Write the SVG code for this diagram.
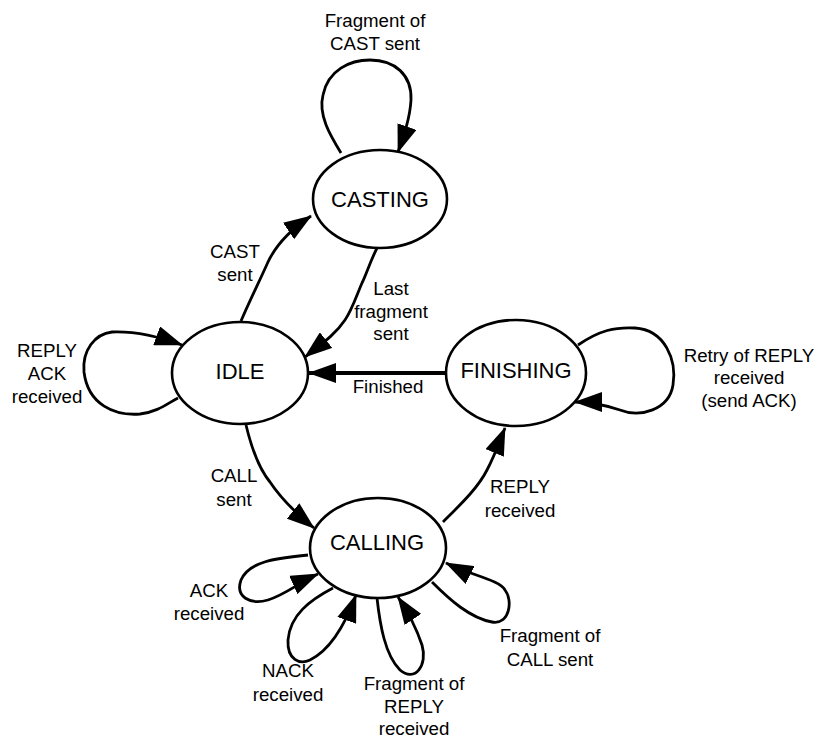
<svg xmlns="http://www.w3.org/2000/svg" width="818" height="738" viewBox="0 0 818 738">
  <style>
    .state { fill: #ffffff; stroke: #000000; stroke-width: 2.6; }
    .edge { fill: none; stroke: #000000; stroke-width: 2.8; marker-end: url(#arrow); }
    .heavy { stroke-width: 3.8; }
    .name { font-family: "Liberation Sans", Arial, sans-serif; font-size: 22px; text-anchor: middle; fill: #000000; }
    .lbl { font-family: "Liberation Sans", Arial, sans-serif; font-size: 18.7px; text-anchor: middle; fill: #000000; }
  </style>
  <defs>
    <marker id="arrow" markerUnits="userSpaceOnUse" markerWidth="28" markerHeight="20" refX="27" refY="10" orient="auto">
      <path d="M0,0 L28,10 L0,20 z" fill="#000000"/>
    </marker>
  </defs>
  <rect width="818" height="738" fill="#ffffff"/>

  <g id="connectors">
    <!-- CASTING self-loop -->
    <path class="edge" d="M341,153 C 330,135 318,115 323,95 C 328,70 350,60 370,60 C 395,60 412,75 411,100 C 410,118 404,135 398,152"/>
    <!-- IDLE to CASTING -->
    <path class="edge" d="M241,321 C 250,300 260,280 268,262 C 276,245 290,230 311,216"/>
    <!-- CASTING to IDLE -->
    <path class="edge" d="M377,248 C 370,262 366,275 362,283 C 356,297 352,310 345,320 C 335,335 320,345 305,357"/>
    <!-- IDLE self-loop -->
    <path class="edge" d="M178,398 C 168,403 158,412 140,414 C 115,416 88,405 84,372 C 82,350 95,334 112,332 C 135,331 160,337 182,345"/>
    <!-- FINISHING to IDLE -->
    <path class="edge heavy" d="M447,373 L309,373"/>
    <!-- FINISHING self-loop -->
    <path class="edge" d="M578,345 C 600,330 615,327 635,328 C 665,330 677,360 673,385 C 669,410 640,418 620,410 C 605,405 590,402 575,402"/>
    <!-- IDLE to CALLING -->
    <path class="edge" d="M246,425 C 252,450 260,470 270,482 C 282,500 298,515 314,528"/>
    <!-- CALLING to FINISHING -->
    <path class="edge" d="M443,522 C 460,505 478,488 487,470 C 495,455 500,440 505,428"/>
    <!-- CALLING self-loops -->
    <path class="edge" d="M308,555 C 280,558 250,560 241,580 C 235,597 250,605 268,600 C 285,595 300,582 318,574"/>
    <path class="edge" d="M333,588 C 310,600 290,615 288,640 C 287,660 300,665 310,660 C 330,650 345,625 356,595"/>
    <path class="edge" d="M377,598 C 380,625 385,655 400,670 C 415,683 428,665 422,645 C 417,630 408,612 398,597"/>
    <path class="edge" d="M432,582 C 450,600 470,618 492,622 C 510,625 513,600 505,590 C 500,580 470,575 446,563"/>
  </g>

  <g id="casting">
    <ellipse class="state" cx="380" cy="199" rx="67" ry="49"/>
    <text class="name" x="380" y="207">CASTING</text>
  </g>
  <g id="idle">
    <ellipse class="state" cx="240" cy="373" rx="68" ry="51"/>
    <text class="name" x="240" y="379">IDLE</text>
  </g>
  <g id="finishing">
    <ellipse class="state" cx="516" cy="373" rx="70" ry="53"/>
    <text class="name" x="516" y="378">FINISHING</text>
  </g>
  <g id="calling">
    <ellipse class="state" cx="378" cy="548" rx="68" ry="50"/>
    <text class="name" x="377" y="550">CALLING</text>
  </g>

  <g id="labels">
    <text class="lbl" x="375" y="27">Fragment of</text>
    <text class="lbl" x="375" y="50">CAST sent</text>
    <text class="lbl" x="235" y="258">CAST</text>
    <text class="lbl" x="235" y="281">sent</text>
    <text class="lbl" x="391" y="295">Last</text>
    <text class="lbl" x="391" y="318">fragment</text>
    <text class="lbl" x="391" y="340">sent</text>
    <text class="lbl" x="47" y="357">REPLY</text>
    <text class="lbl" x="47" y="380">ACK</text>
    <text class="lbl" x="47" y="403">received</text>
    <text class="lbl" x="388" y="393">Finished</text>
    <text class="lbl" x="749" y="362">Retry of REPLY</text>
    <text class="lbl" x="749" y="384">received</text>
    <text class="lbl" x="749" y="407">(send ACK)</text>
    <text class="lbl" x="234" y="482">CALL</text>
    <text class="lbl" x="234" y="506">sent</text>
    <text class="lbl" x="520" y="493">REPLY</text>
    <text class="lbl" x="520" y="517">received</text>
    <text class="lbl" x="209" y="597">ACK</text>
    <text class="lbl" x="209" y="620">received</text>
    <text class="lbl" x="288" y="677">NACK</text>
    <text class="lbl" x="288" y="701">received</text>
    <text class="lbl" x="414" y="690">Fragment of</text>
    <text class="lbl" x="414" y="713">REPLY</text>
    <text class="lbl" x="414" y="735">received</text>
    <text class="lbl" x="550" y="642">Fragment of</text>
    <text class="lbl" x="550" y="666">CALL sent</text>
  </g>
</svg>
